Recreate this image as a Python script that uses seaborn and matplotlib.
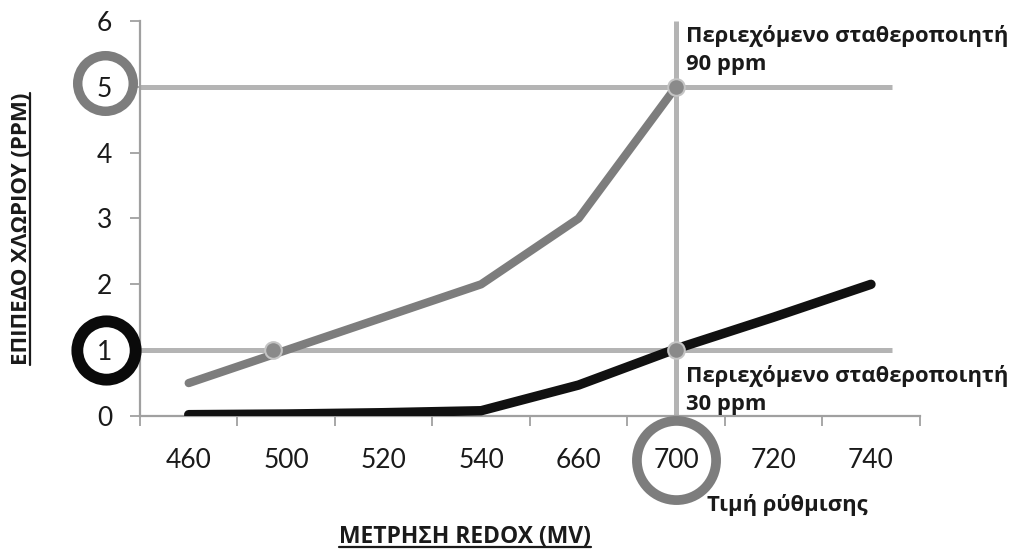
import numpy as np
import pandas as pd
import matplotlib
matplotlib.use("Agg")
import matplotlib.pyplot as plt
from matplotlib.lines import Line2D
import seaborn as sns

# ---- data ----
categories = ['460', '500', '520', '540', '660', '700', '720', '740']
stab90_ppm = [0.5, 1.0, 1.5, 2.0, 3.0, 5.0]          # grey line (90 ppm stabiliser)
stab30_ppm = [0.02, 0.03, 0.05, 0.08, 0.47, 1.02, 1.5, 2.0]  # black line (30 ppm stabiliser)
y_ticks = [0, 1, 2, 3, 4, 5, 6]
setpoint_index = 5          # 700 mV
level_high = 5
level_low = 1
highlight_x = [0.86, 5]     # grey markers on the reference lines
highlight_y = [1, 1]
top_marker = (5, 5)

sns.set_theme(style="white")
plt.rcParams['font.family'] = ['Open Sans', 'DejaVu Sans']

fig = plt.figure(figsize=(10.10, 5.52), dpi=100)
ax = fig.add_axes([0.1386, 0.2464, 0.772, 0.7156])

idx = np.arange(len(categories))
df90 = pd.DataFrame({'x': idx[:len(stab90_ppm)], 'y': stab90_ppm})
df30 = pd.DataFrame({'x': idx, 'y': stab30_ppm})

grid_c = '#b4b4b4'
spine_c = '#a0a0a0'

# reference lines
ax.plot([-0.5, 7.22], [level_high, level_high], color=grid_c, lw=3.6, zorder=1, solid_capstyle='butt')
ax.plot([-0.5, 7.22], [level_low, level_low], color=grid_c, lw=3.6, zorder=1, solid_capstyle='butt')
ax.plot([setpoint_index, setpoint_index], [0, 6], color=grid_c, lw=3.6, zorder=1, solid_capstyle='butt')

sns.lineplot(data=df90, x='x', y='y', ax=ax, color='#7d7d7d', linewidth=6,
             solid_capstyle='round', zorder=3)
sns.lineplot(data=df30, x='x', y='y', ax=ax, color='#111111', linewidth=6.8,
             solid_capstyle='round', zorder=3)

ax.plot(highlight_x, highlight_y, 'o', ms=12, mfc='#8a8a8a', mec='#c4c4c4', mew=1.5, zorder=4)
ax.plot([top_marker[0]], [top_marker[1]], 'o', ms=12, mfc='#8a8a8a', mec='#c4c4c4', mew=1.5, zorder=4)

ax.set_xlim(-0.5, 7.5)
ax.set_ylim(0, 6)
ax.set_yticks(y_ticks)
ax.set_yticklabels([str(v) for v in y_ticks])
ax.set_xticks(idx)
ax.set_xticklabels(categories)
ax.set_xticks(np.arange(-0.5, len(categories) + 0.5, 1), minor=True)
ax.tick_params(axis='x', which='major', length=0, pad=23, labelsize=19, labelcolor='#1a1a1a')
ax.tick_params(axis='x', which='minor', length=7, width=1.3, color=spine_c, direction='out', bottom=True)
ax.tick_params(axis='y', length=7, width=1.3, color=spine_c, direction='out', left=True,
               pad=13, labelsize=19, labelcolor='#1a1a1a')
for lab in ax.get_xticklabels() + ax.get_yticklabels():
    lab.set_fontfamily(['Lato', 'DejaVu Sans'])

for s in ['top', 'right']:
    ax.spines[s].set_visible(False)
for s in ['left', 'bottom']:
    ax.spines[s].set_color(spine_c)
    ax.spines[s].set_linewidth(1.6)
ax.set_xlabel('')
ax.set_ylabel('')

# circled tick labels
ytr = ax.get_yaxis_transform()
xtr = ax.get_xaxis_transform()
ax.plot([-0.045], [level_high + 0.06], 'o', transform=ytr, ms=40, mfc='none', mec='#7d7d7d',
        mew=6.8, clip_on=False, zorder=5)
ax.plot([-0.043], [level_low], 'o', transform=ytr, ms=42, mfc='none', mec='#0a0a0a',
        mew=8.5, clip_on=False, zorder=5)
ax.plot([setpoint_index], [-0.112], 'o', transform=xtr, ms=57, mfc='none', mec='#7d7d7d',
        mew=7, clip_on=False, zorder=5)

# annotations
ann_kw = dict(fontsize=15.8, fontweight='bold', color='#1a1a1a', linespacing=1.4)
ax.annotate('Περιεχόμενο σταθεροποιητή\n90 ppm', xy=(setpoint_index, 6), xytext=(7, -3),
            textcoords='offset points', ha='left', va='top', annotation_clip=False, **ann_kw)
ax.annotate('Περιεχόμενο σταθεροποιητή\n30 ppm', xy=(setpoint_index, level_low), xytext=(7, -11),
            textcoords='offset points', ha='left', va='top', annotation_clip=False, **ann_kw)
ax.annotate('Τιμή ρύθμισης', xy=(setpoint_index, 0), xytext=(22, -64),
            textcoords='offset points', ha='left', va='center', annotation_clip=False, **ann_kw)

# axis titles (bold, underlined)
xt = fig.text(0.46, 0.027, 'ΜΕΤΡΗΣΗ REDOX (MV)', ha='center', va='center',
              fontsize=16.5, fontweight='bold', color='#1a1a1a')
yt = fig.text(0.021, 0.585, 'ΕΠΙΠΕΔΟ ΧΛΩΡΙΟΥ (PPM)', ha='center', va='center', rotation=90,
              fontsize=16, fontweight='bold', color='#1a1a1a')

fig.canvas.draw()
r = fig.canvas.get_renderer()
W, H = fig.get_size_inches() * fig.dpi
bb = xt.get_window_extent(r)
yl = (bb.y0 + 2) / H
fig.add_artist(Line2D([bb.x0 / W, bb.x1 / W], [yl, yl], color='#1a1a1a', lw=1.6))
bb = yt.get_window_extent(r)
xl = (bb.x1 - 2) / W
fig.add_artist(Line2D([xl, xl], [bb.y0 / H, bb.y1 / H], color='#1a1a1a', lw=1.6))

fig.savefig('out.png', dpi=100, facecolor='white')
